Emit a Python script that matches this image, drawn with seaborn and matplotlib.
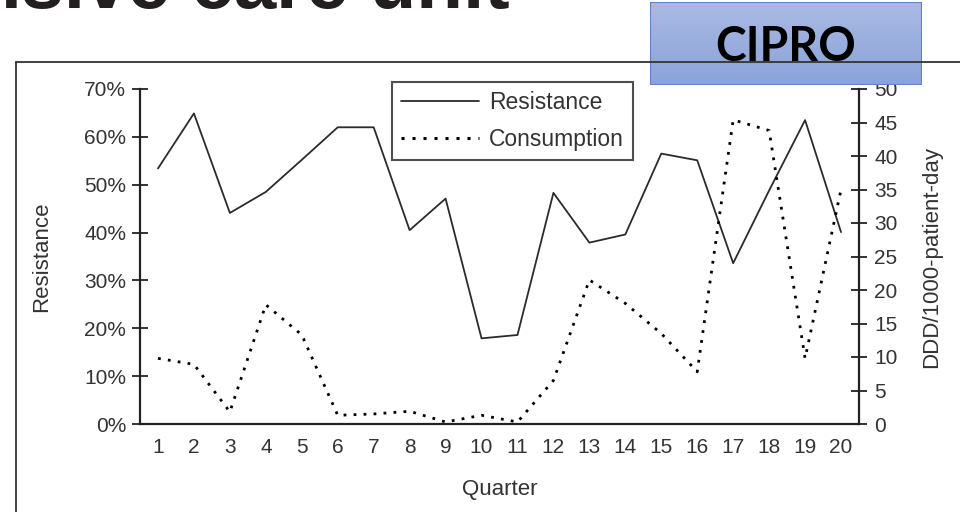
"""
Cipro resistance vs consumption per quarter - ICU slide recreation
"""

import numpy as np
import matplotlib
matplotlib.use("Agg")
import matplotlib.pyplot as plt
from matplotlib.lines import Line2D
from matplotlib.patches import Rectangle
from matplotlib.ticker import PercentFormatter, MultipleLocator
import seaborn as sns

sns.set_style("white")
plt.rcParams["font.family"] = ["Liberation Sans", "DejaVu Sans"]

# ── Data ──────────────────────────────────────
quarters = list(range(1, 21))
quarter_labels = [str(q) for q in quarters]
resistance_pct = [53.4, 64.9, 44.1, 48.5, 55.2, 62.0, 62.0, 40.5, 47.1, 17.9,
                  18.6, 48.3, 37.9, 39.6, 56.5, 55.1, 33.6, 48.8, 63.5, 40.1]
consumption_ddd = [9.8, 8.9, 1.8, 17.8, 13.3, 1.3, 1.5, 1.9, 0.3, 1.3,
                   0.3, 6.5, 21.5, 18.0, 13.5, 7.8, 45.4, 43.8, 9.8, 35.0]

INK = "#222222"
TXT = "#333333"
DOTS = (0, (1, 2.6))
W, H = 960, 512

fig = plt.figure(figsize=(W / 100, H / 100), dpi=100, facecolor="white")

# slide title, cut off by the top of the screenshot
fig.text(510 / W, 1 - 8 / H, "intensive care unit", fontsize=55, fontweight="bold",
         color="#231f20", ha="right", va="baseline")

# outer frame of the pasted figure
fig.add_artist(Line2D([16 / W, 16 / W], [0, 1 - 62 / H], color=TXT, lw=1.3))
fig.add_artist(Line2D([16 / W, 1], [1 - 62 / H, 1 - 62 / H], color=TXT, lw=1.3))

# ── Main axes ─────────────────────────────────
ax = fig.add_axes([140 / W, 1 - 424 / H, (859 - 140) / W, (424 - 89) / H])
ax.set_facecolor("none")
sns.lineplot(x=quarters, y=resistance_pct, ax=ax, color="#2b2b2b", lw=1.3,
             legend=False)
ax.set_xlim(0.5, len(quarters) + 0.5)
ax.set_ylim(0, 70)
ax.yaxis.set_major_locator(MultipleLocator(10))
ax.yaxis.set_major_formatter(PercentFormatter(100, decimals=0))

ax.set_xticks(np.arange(0.5, len(quarters) + 1, 1))
ax.set_xticklabels([])
ax.set_xticks(quarters, minor=True)
ax.set_xticklabels(quarter_labels, minor=True)

ax.tick_params(axis="both", which="major", direction="inout", length=12,
               width=1.3, color=INK, labelsize=15, labelcolor=TXT, pad=4)
ax.tick_params(axis="x", which="minor", length=0, labelsize=15,
               labelcolor=TXT, pad=10)
for side in ["top", "right"]:
    ax.spines[side].set_visible(False)
for side in ["left", "bottom"]:
    ax.spines[side].set_color(INK)
    ax.spines[side].set_linewidth(1.6)

ax.set_xlabel("Quarter", fontsize=16, color=TXT, labelpad=16)
ax.set_ylabel("Resistance", fontsize=16, color=TXT)
ax.yaxis.set_label_coords(-0.122, 0.5)

# ── Secondary axis: consumption ───────────────
ax2 = ax.twinx()
sns.lineplot(x=quarters, y=consumption_ddd, ax=ax2, color="black", lw=2.0,
             linestyle=DOTS, legend=False)
ax2.set_ylim(0, 50)
ax2.yaxis.set_major_locator(MultipleLocator(5))
ax2.tick_params(axis="y", direction="inout", length=12, width=1.3, color=INK,
                labelsize=15, labelcolor=TXT, pad=5)
for side in ["top", "left", "bottom"]:
    ax2.spines[side].set_visible(False)
ax2.spines["right"].set_color(INK)
ax2.spines["right"].set_linewidth(1.6)
ax2.set_ylabel("DDD/1000-patient-day", fontsize=16, color=TXT)
ax2.yaxis.set_label_coords(1.086, 0.498)

handles = [
    Line2D([], [], color="#2b2b2b", lw=1.3),
    Line2D([], [], color="black", lw=2.2, linestyle=DOTS),
]
leg = ax2.legend(handles, ["Resistance", "Consumption"], loc="upper left",
                 bbox_to_anchor=(0.350, 1.021), fontsize=16.5, frameon=True,
                 fancybox=False, handlelength=3.4, handletextpad=0.45,
                 labelspacing=0.6, borderpad=0.4, borderaxespad=0)
leg.get_frame().set_edgecolor(INK)
leg.get_frame().set_linewidth(1.5)
for t in leg.get_texts():
    t.set_color(TXT)

# ── CIPRO badge ───────────────────────────────
bx0, bx1, by0, by1 = 650, 922, 2, 85
badge = fig.add_axes([bx0 / W, 1 - by1 / H, (bx1 - bx0) / W, (by1 - by0) / H])
grad = np.linspace(0, 1, 64).reshape(-1, 1)
top_c = np.array(matplotlib.colors.to_rgb("#aabae3"))
bot_c = np.array(matplotlib.colors.to_rgb("#8aa3d9"))
img = top_c[None, None, :] * (1 - grad[..., None]) + bot_c[None, None, :] * grad[..., None]
badge.imshow(img, aspect="auto", extent=(0, 1, 0, 1), origin="upper")
badge.add_patch(Rectangle((0, 0), 1, 1, transform=badge.transAxes, fill=False,
                          edgecolor="#5f82c9", lw=1.5))
badge.text(0.5, 0.46, "CIPRO", fontsize=33.5, fontweight="bold", family="Lato",
           color="black", ha="center", va="center", transform=badge.transAxes)
badge.set_xlim(0, 1)
badge.set_ylim(0, 1)
badge.axis("off")

plt.savefig("out.png", dpi=100, facecolor="white")
